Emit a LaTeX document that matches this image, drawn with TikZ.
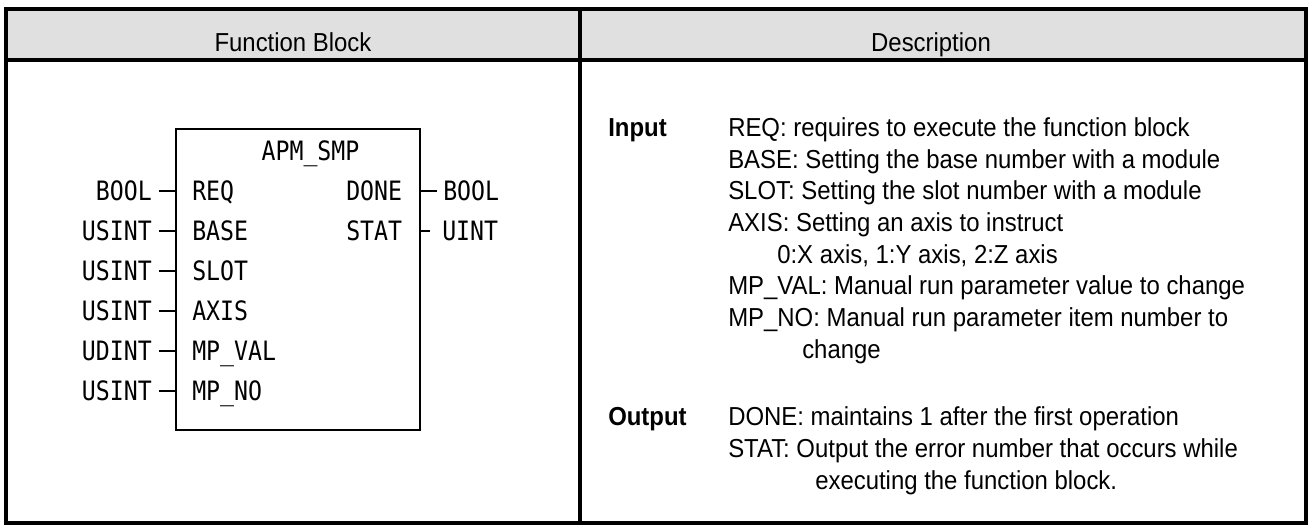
\documentclass[tikz,border=0pt]{standalone}
\usepackage{fontspec}
\setmainfont[FakeStretch=0.92]{Liberation Sans}
\newfontfamily\plcfont[FakeStretch=0.87]{DejaVu Sans Mono}
\definecolor{headgray}{HTML}{E0E0E0}

\begin{document}
\begin{tikzpicture}[
    x=0.75pt, y=-0.75pt,
    tableline/.style={
        line width=3.5pt
    },
    fbbox/.style={
        draw,
        line width=2.2pt,
        minimum width=183pt,
        minimum height=225.75pt,
        inner sep=0pt
    },
    stub/.style={
        line width=2.2pt
    },
    typelabel/.style={
        font=\plcfont\fontsize{20pt}{20pt}\selectfont,
        inner sep=0pt,
        text height=14.6pt,
        text depth=0pt
    },
    pinname/.style={
        font=\plcfont\fontsize{20pt}{20pt}\selectfont,
        inner sep=0pt,
        anchor=base west
    },
    headtext/.style={
        font=\fontsize{19.5pt}{21pt}\selectfont,
        inner sep=0pt,
        anchor=base
    },
    desc/.style={
        font=\fontsize{19.5pt}{21pt}\selectfont,
        inner sep=0pt,
        anchor=base west
    },
    desctitle/.style={
        font=\bfseries\fontsize{19.5pt}{21pt}\selectfont,
        inner sep=0pt,
        anchor=base west
    }
]
\useasboundingbox (0,0) rectangle (1311,527);

% ------------------------------------------------
% Table frame
% ------------------------------------------------
\fill[headgray] (6,9) rectangle (1306,60);
\draw[tableline] (6,9) rectangle (1306,523);
\draw[tableline] (6,60) -- (1306,60);
\draw[tableline] (580,9) -- (580,523);

\node[headtext] (hfb)   at (293,52) {Function Block};
\node[headtext] (hdesc) at (931,52) {Description};

% ------------------------------------------------
% Function block
% ------------------------------------------------
\node[fbbox] (fb) at (298,279.5) {};
\node[pinname, anchor=base] (fbname) at (310.5,161) {APM\_SMP};

\foreach \t/\p [count=\i] in {BOOL/REQ, USINT/BASE, USINT/SLOT,
                              USINT/AXIS, UDINT/MP\_VAL, USINT/MP\_NO}{
  \node[typelabel, anchor=east] (it\i) at (152,{191+40*(\i-1)}) {\t};
  \node[pinname] (ip\i) at (192,{200.75+40*(\i-1)}) {\p};
  \draw[stub] ([xshift=5.25pt]it\i.east) -- (it\i.east -| fb.west);
}

\node[pinname] (op1) at (346,200.75) {DONE};
\node[pinname] (op2) at (346,240.75) {STAT};
\node[typelabel, anchor=west] (ot1) at (443,191) {BOOL};
\node[typelabel, anchor=west] (ot2) at (442,231) {UINT};
\draw[stub] (fb.east |- ot1.west) -- ([xshift=-4.5pt]ot1.west);
\draw[stub] (fb.east |- ot2.west) -- ([xshift=-9pt]ot2.west);

% ------------------------------------------------
% Description
% ------------------------------------------------
\node[desctitle] (inlab) at (608,136.4) {Input};
\node[desc] (d1) at (728,136.4) {REQ: requires to execute the function block};
\node[desc] (d2) at (728,168.1) {BASE: Setting the base number with a module};
\node[desc] (d3) at (728,199.8) {SLOT: Setting the slot number with a module};
\node[desc] (d4) at (728,231.5) {AXIS: Setting an axis to instruct};
\node[desc] (d5) at (777,263.2) {0:X axis, 1:Y axis, 2:Z axis};
\node[desc] (d6) at (728,294.9) {MP\_VAL: Manual run parameter value to change};
\node[desc] (d7) at (728,326.6) {MP\_NO: Manual run parameter item number to};
\node[desc] (d8) at (802,358.3) {change};

\node[desctitle] (outlab) at (608,426) {Output};
\node[desc] (d9)  at (728,426)   {DONE: maintains 1 after the first operation};
\node[desc] (d10) at (728,457.5) {STAT: Output the error number that occurs while};
\node[desc] (d11) at (815,489)   {executing the function block.};

\end{tikzpicture}
\end{document}
